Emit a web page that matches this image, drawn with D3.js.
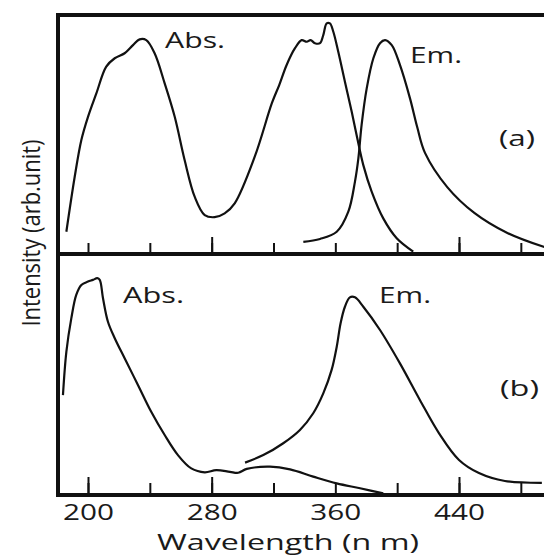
<!DOCTYPE html>
<html>
<head>
<meta charset="utf-8">
<script src="https://cdn.jsdelivr.net/npm/d3@7"></script>
<style>
  html, body { margin: 0; padding: 0; background: #fff; }
  svg { display: block; }
  text { font-family: "Open Sans", sans-serif; fill: #1a1a1a; }
</style>
</head>
<body>
<div id="chart"></div>
<script>
// wavelength (nm), intensity (arb. 0-100 of panel height)
const absA = [[186, 9.3], [191.4, 32.3], [195.7, 47.7], [200, 57.4], [205.4, 67.2], [211.8, 78.4],
  [217.3, 81.9], [223.7, 84], [229.1, 87.4], [233.4, 89.8], [237.7, 89.5], [243.1, 84], [249.6, 71.4],
  [256.1, 57.4], [262.5, 39.3], [269, 24], [275.5, 16.3], [281.9, 15.4], [288.4, 17], [294.9, 21.2],
  [307.8, 40.6], [319, 63.2], [323.7, 70.7], [328.5, 79.1], [333.9, 86.1], [338.2, 89.5], [341.5, 88.8],
  [344, 89.5], [346.8, 88.2], [350.1, 88.2], [352.2, 91.6], [354.4, 96.5], [356.5, 96.5], [358.7, 93],
  [361.9, 84.6], [366.2, 72.1], [370.6, 59.5], [374.2, 48.4], [378.1, 37.2], [383.5, 26.1],
  [391, 14.9], [399.7, 6.6], [410.4, 1]]
const emA = [[339.3, 5.1], [350.1, 6.3], [360.9, 9.3], [368.4, 17.7], [372.7, 30.3], [374.9, 40],
  [377, 54], [380.3, 69.3], [384.6, 81.9], [388.9, 88.2], [392.2, 89.5], [396.5, 87.4], [401.8, 79.1],
  [408.3, 65.1], [413, 53], [418, 42.3], [432.4, 28], [449.9, 17.2], [471.3, 8.8], [495.2, 2.9]]
const absB = [[183.8, 41.7], [186, 59.6], [189.2, 73.4], [192.4, 83.1], [195.7, 87.2], [200, 88.6],
  [203.2, 89.3], [206, 90], [207.6, 89.3], [209.7, 81.7], [212.9, 72], [217.3, 65.2], [223.7, 56.9],
  [232.3, 45.9], [240.9, 34.8], [249.6, 25.2], [258.2, 16.9], [266.8, 11.4], [275.5, 9.8], [283, 10.7],
  [291.8, 10], [297.2, 9.6], [302.7, 11.2], [317.7, 12.1], [330.7, 11], [345.7, 8], [360.9, 5.2],
  [376, 3.2], [391, 1.1]]
const emB = [[301.6, 13.8], [313.4, 16.9], [326.3, 21.8], [337.1, 27.3], [345.7, 34.2], [352.2, 42.4],
  [357.6, 52.1], [360.9, 61.7], [363.4, 71.4], [366.2, 78.2], [369.4, 82.1], [372.7, 82.1],
  [378.1, 78.2], [388.9, 68.6], [401.8, 54.8], [414.7, 39.7], [427, 26], [440, 14.9], [452.9, 9.5],
  [469.7, 6.2], [493.6, 5.4]]

const allTicks = [200, 240, 280, 320, 360, 400, 440, 480]
const majorTicksA = [280, 440]
const majorTicksB = [200, 280, 440]
const labelTicks = [200, 280, 360, 440]

const width = 544, height = 555

const svg = d3.select('#chart').append('svg')
  .attr('width', width)
  .attr('height', height)

const x = d3.scaleLinear().domain([200, 440]).range([88, 459])
const yA = d3.scaleLinear().domain([0, 100]).range([254, 15])
const yB = d3.scaleLinear().domain([0, 100]).range([496, 254])

const frameLeft = 58, frameRight = 560

// ticks pointing up from each panel's bottom line
function tickAxis(y0, values, len) {
  const g = svg.append('g')
    .attr('transform', 'translate(0,' + y0 + ')')
    .call(d3.axisBottom(x).tickValues(values).tickSizeInner(-len).tickSizeOuter(0).tickFormat(''))
  g.select('.domain').remove()
  g.selectAll('.tick line').attr('stroke', '#111').attr('stroke-width', 2)
}
tickAxis(yA(0), allTicks, 11)
tickAxis(yA(0), majorTicksA, 17)
tickAxis(yB(0), allTicks, 13)
tickAxis(yB(0), majorTicksB, 19)

// frame
const frame = svg.append('g').attr('stroke', '#111').attr('stroke-width', 4)
frame.append('line').attr('x1', frameLeft - 2).attr('x2', frameRight).attr('y1', 15).attr('y2', 15)
frame.append('line').attr('x1', frameLeft).attr('x2', frameLeft).attr('y1', 13).attr('y2', 497)
frame.append('line').attr('x1', frameLeft).attr('x2', frameRight).attr('y1', yA(0)).attr('y2', yA(0))
frame.append('line').attr('x1', frameLeft - 2).attr('x2', frameRight).attr('y1', yB(0) - 1).attr('y2', yB(0) - 1)

// curves
function curve(data, y) {
  svg.append('path')
    .datum(data)
    .attr('fill', 'none')
    .attr('stroke', '#111')
    .attr('stroke-width', 2.2)
    .attr('stroke-linejoin', 'round')
    .attr('d', d3.line().x(d => x(d[0])).y(d => y(d[1])).curve(d3.curveCatmullRom.alpha(0.5)))
}
curve(absA, yA)
curve(emA, yA)
curve(absB, yB)
curve(emB, yB)

// tick labels
const lab = svg.append('g')
  .attr('transform', 'translate(0,' + (yB(0) - 1) + ')')
  .call(d3.axisBottom(x).tickValues(labelTicks).tickSize(0).tickFormat(d3.format('d')))
lab.select('.domain').remove()
lab.selectAll('text')
  .attr('dy', null)
  .attr('y', 25)
  .attr('font-size', 21)
  .attr('textLength', 51)
  .attr('lengthAdjust', 'spacingAndGlyphs')
  .attr('fill', '#1a1a1a')

// annotations
function note(str, x0, yBase, len) {
  svg.append('text')
    .attr('x', x0).attr('y', yBase)
    .attr('font-size', 21)
    .attr('textLength', len)
    .attr('lengthAdjust', 'spacingAndGlyphs')
    .text(str)
}
note('Abs.', 165, 48, 60)
note('Em.', 410, 63, 52)
note('(a)', 499, 146, 36)
note('Abs.', 123, 303, 61)
note('Em.', 379, 303, 52)
note('(b)', 500, 396, 39)
note('Wavelength (n m)', 157, 550, 262)

svg.append('text')
  .attr('transform', 'translate(40,233) rotate(-90)')
  .attr('text-anchor', 'middle')
  .attr('font-size', 26)
  .attr('textLength', 187)
  .attr('lengthAdjust', 'spacingAndGlyphs')
  .text('Intensity (arb.unit)')
</script>
</body>
</html>
